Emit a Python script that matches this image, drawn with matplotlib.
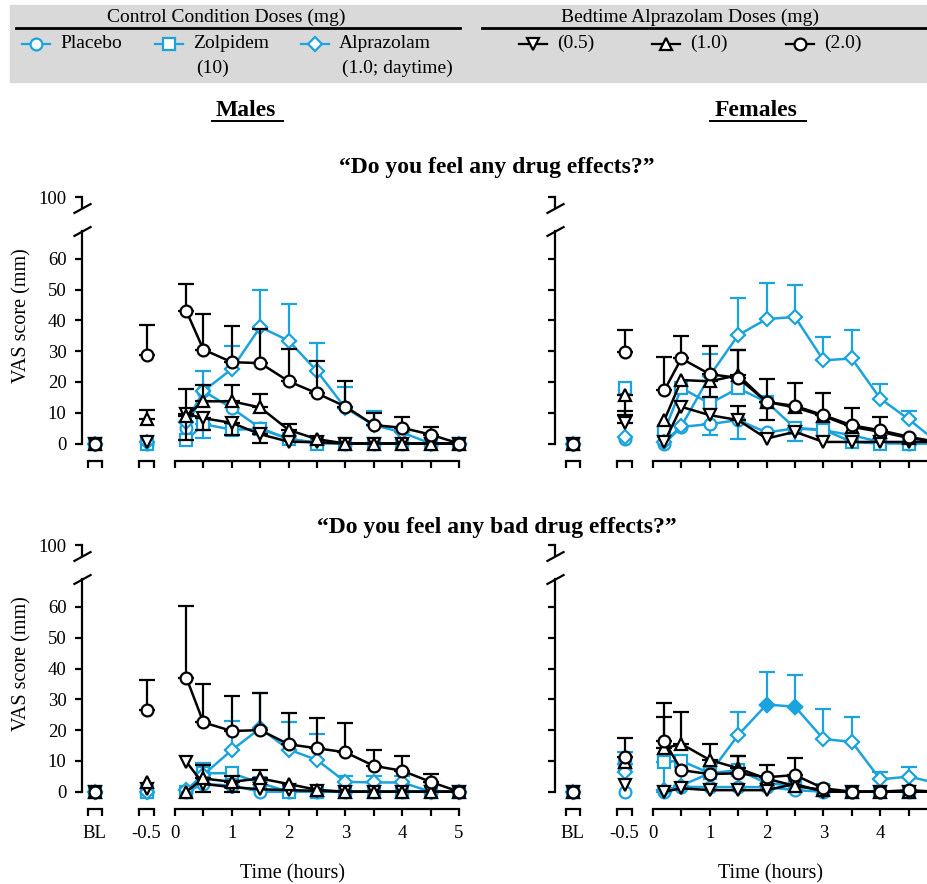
import numpy as np
import matplotlib
matplotlib.use("Agg")
import matplotlib.pyplot as plt

plt.rcParams['font.family'] = ['Liberation Serif', 'DejaVu Serif']

#---------------- data (BL, -0.5, then one value per entry of times) ----------------
pre_labels = ['BL', '-0.5']
times = [0.2, 0.5, 1, 1.5, 2, 2.5, 3, 3.5, 4, 4.5, 5]
hour_ticks = [0, 1, 2, 3, 4, 5]

# Males, "Do you feel any drug effects?"
md_placebo = [0, 0, 5, 17, 11.5, 5, 1.5, 0.3, 0, 0, 0, 0, 0]
md_placebo_err = [0, 0, 0, 6.5, 0, 0, 0, 0, 0, 0, 0, 0, 0]
md_zolpidem = [0, 0, 1, 6.3, 4.5, 4.7, 1.5, 0, 0, 0, 0, 0, 0]
md_zolpidem_err = [0, 0, 0, -4.5, 0, 0, 0, 0, 0, 0, 0, 0, 0]
md_alpraz_day = [0, 0.5, 7, 17, 24.2, 37.8, 33.4, 23.5, 11.5, 6, 3.6, 0, 0]
md_alpraz_day_err = [0, 0, 0, 0, 7.6, 11.9, 12, 9.1, 7, 4.4, 0, 0, 0]
md_bed05 = [0, 0.5, 9.6, 8.2, 6.7, 3.0, 0.6, 0.4, 0, 0, 0, 0, 0]
md_bed05_err = [0, 0, -8.6, -3.7, -4, -2.8, 0, 0, 0, 0, 0, 0, 0]
md_bed10 = [0, 8, 9, 13.7, 13.7, 11.7, 4.4, 1.4, 0, 0, 0, 0, 0]
md_bed10_err = [0, 3, 8.7, 5.3, 5.4, 4.4, 1.9, 0, 0, 0, 0, 0, 0]
md_bed20 = [0, 28.6, 43, 30.5, 26.4, 26.1, 20.2, 16.3, 12, 6, 5.1, 2.9, 0]
md_bed20_err = [0, 10, 8.9, 11.6, 11.7, 11.1, 10.5, 10.6, 8.4, 3.9, 3.5, 2.3, 0]

# Females, "Do you feel any drug effects?"
fd_placebo = [0, 1.5, 0, 5.4, 6.3, 7.6, 3.6, 4.9, 4.3, 2.7, 0.5, 0, 0]
fd_placebo_err = [0, 0, 0, 0, -3.6, -6.2, 0, -4, 0, 0, 0, 0, 0]
fd_zolpidem = [0, 18, 4, 18, 13, 17.9, 13.5, 5, 4.5, 0.5, 0, 0, 0]
fd_zolpidem_err = [0, 0, 0, 0, 0, 0, 0, 0, 0, 0, 0, 0, 0]
fd_alpraz_day = [0, 2.2, 0.5, 5.6, 22, 35.2, 40.4, 41.1, 27, 27.6, 14.6, 7.9, 0.5]
fd_alpraz_day_err = [0, 0, 0, 0, 7.2, 12.1, 11.8, 10.5, 7.6, 9.4, 4.6, 2.7, 0]
fd_bed05 = [0, 6.5, 0.5, 11.9, 9.2, 7.6, 1.6, 3.8, 0.5, 0.5, 0.5, 0.5, 0.5]
fd_bed05_err = [0, 4, 0, 0, 0, 4.5, 0, 0, 0, 0, 0, 0, 0]
fd_bed10 = [0, 15.7, 7.6, 20.6, 20.2, 22.2, 13.5, 11.7, 8.9, 5.4, 3.8, 1.8, 0.5]
fd_bed10_err = [0, -6.5, 0, 0, -5, 8.3, -6, 0, 0, 0, 0, 0, 0]
fd_bed20 = [0, 29.8, 17.3, 27.6, 22.5, 21.3, 13.5, 12.2, 9.2, 5.9, 4.3, 2.2, 0.5]
fd_bed20_err = [0, 7.2, 10.8, 7.4, 9.1, 9.2, 7.6, 7.3, 7.3, 5.7, 4.4, 0, 0]

# Males, "Do you feel any bad drug effects?"
mb_placebo = [0, 0, 0, 2.5, 2, 0, 0, 0, 0, 0, 0, 0, 0]
mb_placebo_err = [0, 0, 0, 0, 0, 0, 0, 0, 0, 0, 0, 0, 0]
mb_zolpidem = [0, 0, 0, 6, 6, 2.8, 0, 0, 0, 0, 0, 0, 0]
mb_zolpidem_err = [0, 0, 0, 3.3, 0, 0, 0, 0, 0, 0, 0, 0, 0]
mb_alpraz_day = [0, 0, 0.5, 5.5, 13.5, 20.6, 13.7, 10.3, 3.2, 3, 3, 0, 0]
mb_alpraz_day_err = [0, 0, 0, 0, 9.4, 11.3, 8.8, 8.3, 2, 2, 2, 0, 0]
mb_bed05 = [0, 1, 9.7, 2.5, 1.5, 0.8, 0.5, 0.3, 0, 0, 0, 0, 0]
mb_bed05_err = [0, 0, 0, -2.5, -1.5, 0, 0, 0, 0, 0, 0, 0, 0]
mb_bed10 = [0, 3.2, 0, 4.3, 3.2, 4.3, 2.5, 0.6, 0, 0, 0, 0, 0]
mb_bed10_err = [0, 0, 0, 4.5, 2, 2.7, 0, 0, 0, 0, 0, 0, 0]
mb_bed20 = [0, 26.5, 37, 22.5, 19.7, 20, 15.4, 14.1, 12.8, 8.4, 6.8, 3.2, 0]
mb_bed20_err = [0, 9.7, 23.2, 12.4, 11.4, 12.2, 10, 9.9, 9.6, 5.1, 4.8, 2.5, 0]

# Females, "Do you feel any bad drug effects?"
fb_placebo = [0, 0, 0, 1.6, 1.5, 1.5, 1.5, 0.5, 0, 0, 0, 0, 0]
fb_placebo_err = [0, 0, 0, 0, 0, 0, 0, 0, 0, 0, 0, 0, 0]
fb_zolpidem = [0, 9, 9.7, 10, 6, 7, 2.8, 1.8, 0.5, 0, 0, 0, 0]
fb_zolpidem_err = [0, 4, -9.7, 0, 0, 0, 0, 0, 0, 0, 0, 0, 0]
fb_alpraz_day = [0, 6.5, 0.5, 2, 6, 18.4, 28.3, 27.6, 17.1, 16.2, 4, 4.9, 2.8]
fb_alpraz_day_err = [0, 0, 0, 0, 0, 7.6, 10.6, 10.3, 9.6, 7.9, 2.3, 3, 0]
fb_alpraz_day_signif = [2, 2.5]   # filled symbols
fb_bed05 = [0, 2.2, 0, 1.1, 0.5, 0.5, 0.5, 2.5, 0, 0, 0, 0, 0]
fb_bed05_err = [0, 0, 0, 0, 0, 0, 0, 0, 0, 0, 0, 0, 0]
fb_bed10 = [0, 9.5, 14.1, 15.5, 10.3, 7.6, 4.2, 1.9, 0.5, 0, 0, 0, 0]
fb_bed10_err = [0, 0, 10.2, 10.5, 5.2, 4, 0, 0, 0, 0, 0, 0, 0]
fb_bed20 = [0, 11.4, 16.4, 7, 5.7, 6, 4.7, 5.4, 1.1, 0, 0, 0.5, 0]
fb_bed20_err = [0, 6.1, 12.3, 0, 0, 5.6, 4, 5.4, 0, 0, 0, 0, 0]

#---------------- layout / styles ----------------
W, H = 928, 884
BLUE = '#1ba3dd'
BL_POS = -1.41
PRE_POS = [BL_POS, -0.5]
HOUR_PX = 56.8
UNIT_PX = 3.08
LW = 1.6

STYLES = {
    'placebo': ('o', BLUE, 8.5, 2),
    'zolpidem': ('s', BLUE, 8, 2.1),
    'alpraz_day': ('D', BLUE, 7, 2.2),
    'bed05': ('v', 'k', 9, 3),
    'bed10': ('^', 'k', 9, 3.1),
    'bed20': ('o', 'k', 8.5, 3.2),
}

fig = plt.figure(figsize=(W / 100, H / 100), dpi=100)

#---------------- header / legend drawn in pixel space ----------------
lg = fig.add_axes([0, 0, 1, 1])
lg.set_xlim(0, W)
lg.set_ylim(H, 0)
lg.axis('off')
lg.add_patch(plt.Rectangle((10, 5), W - 10, 77, color='#d9d9d9', zorder=0))
lg.text(226, 17, 'Control Condition Doses (mg)', ha='center', va='center', fontsize=14)
lg.text(690, 17, 'Bedtime Alprazolam Doses (mg)', ha='center', va='center', fontsize=14)
lg.plot([16, 460], [28, 28], color='k', lw=2)
lg.plot([482, W], [28, 28], color='k', lw=2)

legend_items = [
    ('placebo', 36, 'Placebo', None),
    ('zolpidem', 169, 'Zolpidem', '(10)'),
    ('alpraz_day', 315, 'Alprazolam', '(1.0; daytime)'),
    ('bed05', 533, '(0.5)', None),
    ('bed10', 666, '(1.0)', None),
    ('bed20', 800, '(2.0)', None),
]
for key, xc, label, label2 in legend_items:
    m, c, ms, _ = STYLES[key]
    lg.plot([xc - 14, xc + 14], [44, 44], color=c, lw=LW)
    lg.plot([xc], [44], marker=m, ms=ms, mfc='white', mec=c, mew=LW)
    lg.text(xc + 24, 43, label, ha='left', va='center', fontsize=14)
    if label2:
        lg.text(xc + 27, 68, label2, ha='left', va='center', fontsize=14)

for txt, xc, x1, x2 in [('Males', 246, 212, 283), ('Females', 756, 710, 806)]:
    lg.text(xc, 110, txt, ha='center', va='center', fontsize=17, fontweight='bold')
    lg.plot([x1, x2], [121, 121], color='k', lw=1.4)

lg.text(497, 167, '\u201cDo you feel any drug effects?\u201d', ha='center', va='center',
        fontsize=17, fontweight='bold')
lg.text(497, 527, '\u201cDo you feel any bad drug effects?\u201d', ha='center', va='center',
        fontsize=17, fontweight='bold')


def px_rect(left, right, top, bottom):
    return [left / W, 1 - bottom / H, (right - left) / W, (bottom - top) / H]


def break_mark(ax, y):
    ax.plot([0], [y], transform=ax.transAxes, marker=[(-1, -0.55), (1, 0.55)],
            ms=13, mew=LW, color='k', ls='none', clip_on=False)


def draw_panel(x0_px, spine_px, y0_px, series, left_labels, bottom_labels, signif=None):
    xmin = (spine_px - x0_px) / HOUR_PX
    xmax = 5.12
    ylo, yhi = -3, 69
    ax = fig.add_axes(px_rect(spine_px, x0_px + xmax * HOUR_PX,
                              y0_px - yhi * UNIT_PX, y0_px - ylo * UNIT_PX))
    ax.set_facecolor('none')
    ax.set_xlim(xmin, xmax)
    ax.set_ylim(ylo, yhi)
    for s in ['top', 'right']:
        ax.spines[s].set_visible(False)
    for s in ['left', 'bottom']:
        ax.spines[s].set_linewidth(LW)
    ax.spines['left'].set_bounds(0, yhi)
    ax.spines['bottom'].set_bounds(0, 5)
    ax.spines['bottom'].set_position(('outward', 6))

    # y axis
    ax.set_yticks([0, 10, 20, 30, 40, 50, 60])
    ax.tick_params(axis='y', direction='out', length=5, width=LW, pad=6,
                   labelsize=13.5, labelleft=left_labels)

    # x axis: brackets for BL and -0.5, ticks every half hour
    hw = 0.13
    bracket_ticks = [p + d for p in PRE_POS for d in (-hw, hw)]
    half_hours = list(np.arange(0, 5.01, 0.5))
    # hour labels that would fall off the right edge of the figure are left out
    shown = [h for h in hour_ticks if x0_px + h * HOUR_PX < W - 12]
    ax.set_xticks(bracket_ticks + half_hours)
    ax.set_xticklabels([''] * len(bracket_ticks) +
                       [str(int(h)) if h in shown else '' for h in half_hours])
    ax.set_xticks(PRE_POS, minor=True)
    ax.set_xticklabels(pre_labels, minor=True)
    ax.tick_params(axis='x', which='major', direction='out', length=5, width=LW,
                   pad=6, labelsize=13.5, labelbottom=bottom_labels)
    ax.tick_params(axis='x', which='minor', length=0, pad=11, labelsize=13.5,
                   labelbottom=bottom_labels)
    sp = ax.spines['bottom'].get_spine_transform()
    for p in PRE_POS:
        ax.plot([p - hw, p + hw], [0, 0], transform=sp, color='k', lw=LW,
                solid_capstyle='projecting', clip_on=False)

    x = np.array(PRE_POS + times)
    for key, vals, errs in series:
        m, c, ms, z = STYLES[key]
        v = np.array(vals, dtype=float)
        e = np.array(errs, dtype=float)
        lo = np.where(e < 0, -e, 0)
        hi = np.where(e > 0, e, 0)
        k = e != 0
        if k.any():
            ax.errorbar(x[k], v[k], yerr=[lo[k], hi[k]], fmt='none', ecolor=c,
                        elinewidth=LW, capsize=6, capthick=LW, zorder=z)
        ax.plot(x[2:], v[2:], color=c, lw=1.8, marker=m, ms=ms, mfc='white', mec=c,
                mew=LW, zorder=z + 0.05, clip_on=False)
        ax.plot(x[:2], v[:2], ls='none', marker=m, ms=ms, mfc='white', mec=c,
                mew=LW, zorder=z + 0.05, clip_on=False)
        if signif and key in signif:
            st = np.isin(x, signif[key])
            ax.plot(x[st], v[st], ls='none', marker=m, ms=ms, mfc=c, mec=c,
                    mew=LW, zorder=z + 0.06, clip_on=False)

    if left_labels:
        ax.set_ylabel('VAS score (mm)', fontsize=14.5)
        ax.yaxis.set_label_coords(-0.13, 0.62)
    if bottom_labels:
        ax.set_xlabel('Time (hours)', fontsize=14.5)
        ax.xaxis.set_label_coords((x0_px + 2.06 * HOUR_PX - spine_px) /
                                  ((xmax - xmin) * HOUR_PX), -0.285)
    break_mark(ax, 1)

    # short upper segment carrying the 100 tick
    top = fig.add_axes(px_rect(spine_px, spine_px + 20, y0_px - 80.6 * UNIT_PX,
                               y0_px - 76.5 * UNIT_PX))
    top.set_facecolor('none')
    top.set_ylim(96.5, 100.6)
    top.set_xticks([])
    top.set_yticks([100])
    for s in ['top', 'right', 'bottom']:
        top.spines[s].set_visible(False)
    top.spines['left'].set_linewidth(LW)
    top.spines['left'].set_bounds(96.5, 100)
    top.tick_params(axis='y', direction='out', length=5, width=LW, pad=6,
                    labelsize=13.5, labelleft=left_labels)
    break_mark(top, 0)
    return ax


def pack(placebo, placebo_e, zol, zol_e, alp, alp_e, b05, b05_e, b10, b10_e, b20, b20_e):
    return [('placebo', placebo, placebo_e), ('zolpidem', zol, zol_e),
            ('alpraz_day', alp, alp_e), ('bed05', b05, b05_e),
            ('bed10', b10, b10_e), ('bed20', b20, b20_e)]


MALE_X0, MALE_SPINE = 175, 81.7
FEM_X0, FEM_SPINE = 653, 555
TOP_Y0, BOT_Y0 = 443.5, 791.7

draw_panel(MALE_X0, MALE_SPINE, TOP_Y0,
           pack(md_placebo, md_placebo_err, md_zolpidem, md_zolpidem_err,
                md_alpraz_day, md_alpraz_day_err, md_bed05, md_bed05_err,
                md_bed10, md_bed10_err, md_bed20, md_bed20_err), True, False)
draw_panel(FEM_X0, FEM_SPINE, TOP_Y0,
           pack(fd_placebo, fd_placebo_err, fd_zolpidem, fd_zolpidem_err,
                fd_alpraz_day, fd_alpraz_day_err, fd_bed05, fd_bed05_err,
                fd_bed10, fd_bed10_err, fd_bed20, fd_bed20_err), False, False)
draw_panel(MALE_X0, MALE_SPINE, BOT_Y0,
           pack(mb_placebo, mb_placebo_err, mb_zolpidem, mb_zolpidem_err,
                mb_alpraz_day, mb_alpraz_day_err, mb_bed05, mb_bed05_err,
                mb_bed10, mb_bed10_err, mb_bed20, mb_bed20_err), True, True)
draw_panel(FEM_X0, FEM_SPINE, BOT_Y0,
           pack(fb_placebo, fb_placebo_err, fb_zolpidem, fb_zolpidem_err,
                fb_alpraz_day, fb_alpraz_day_err, fb_bed05, fb_bed05_err,
                fb_bed10, fb_bed10_err, fb_bed20, fb_bed20_err), False, True,
           signif={'alpraz_day': fb_alpraz_day_signif})

fig.savefig('out.png', dpi=100)
